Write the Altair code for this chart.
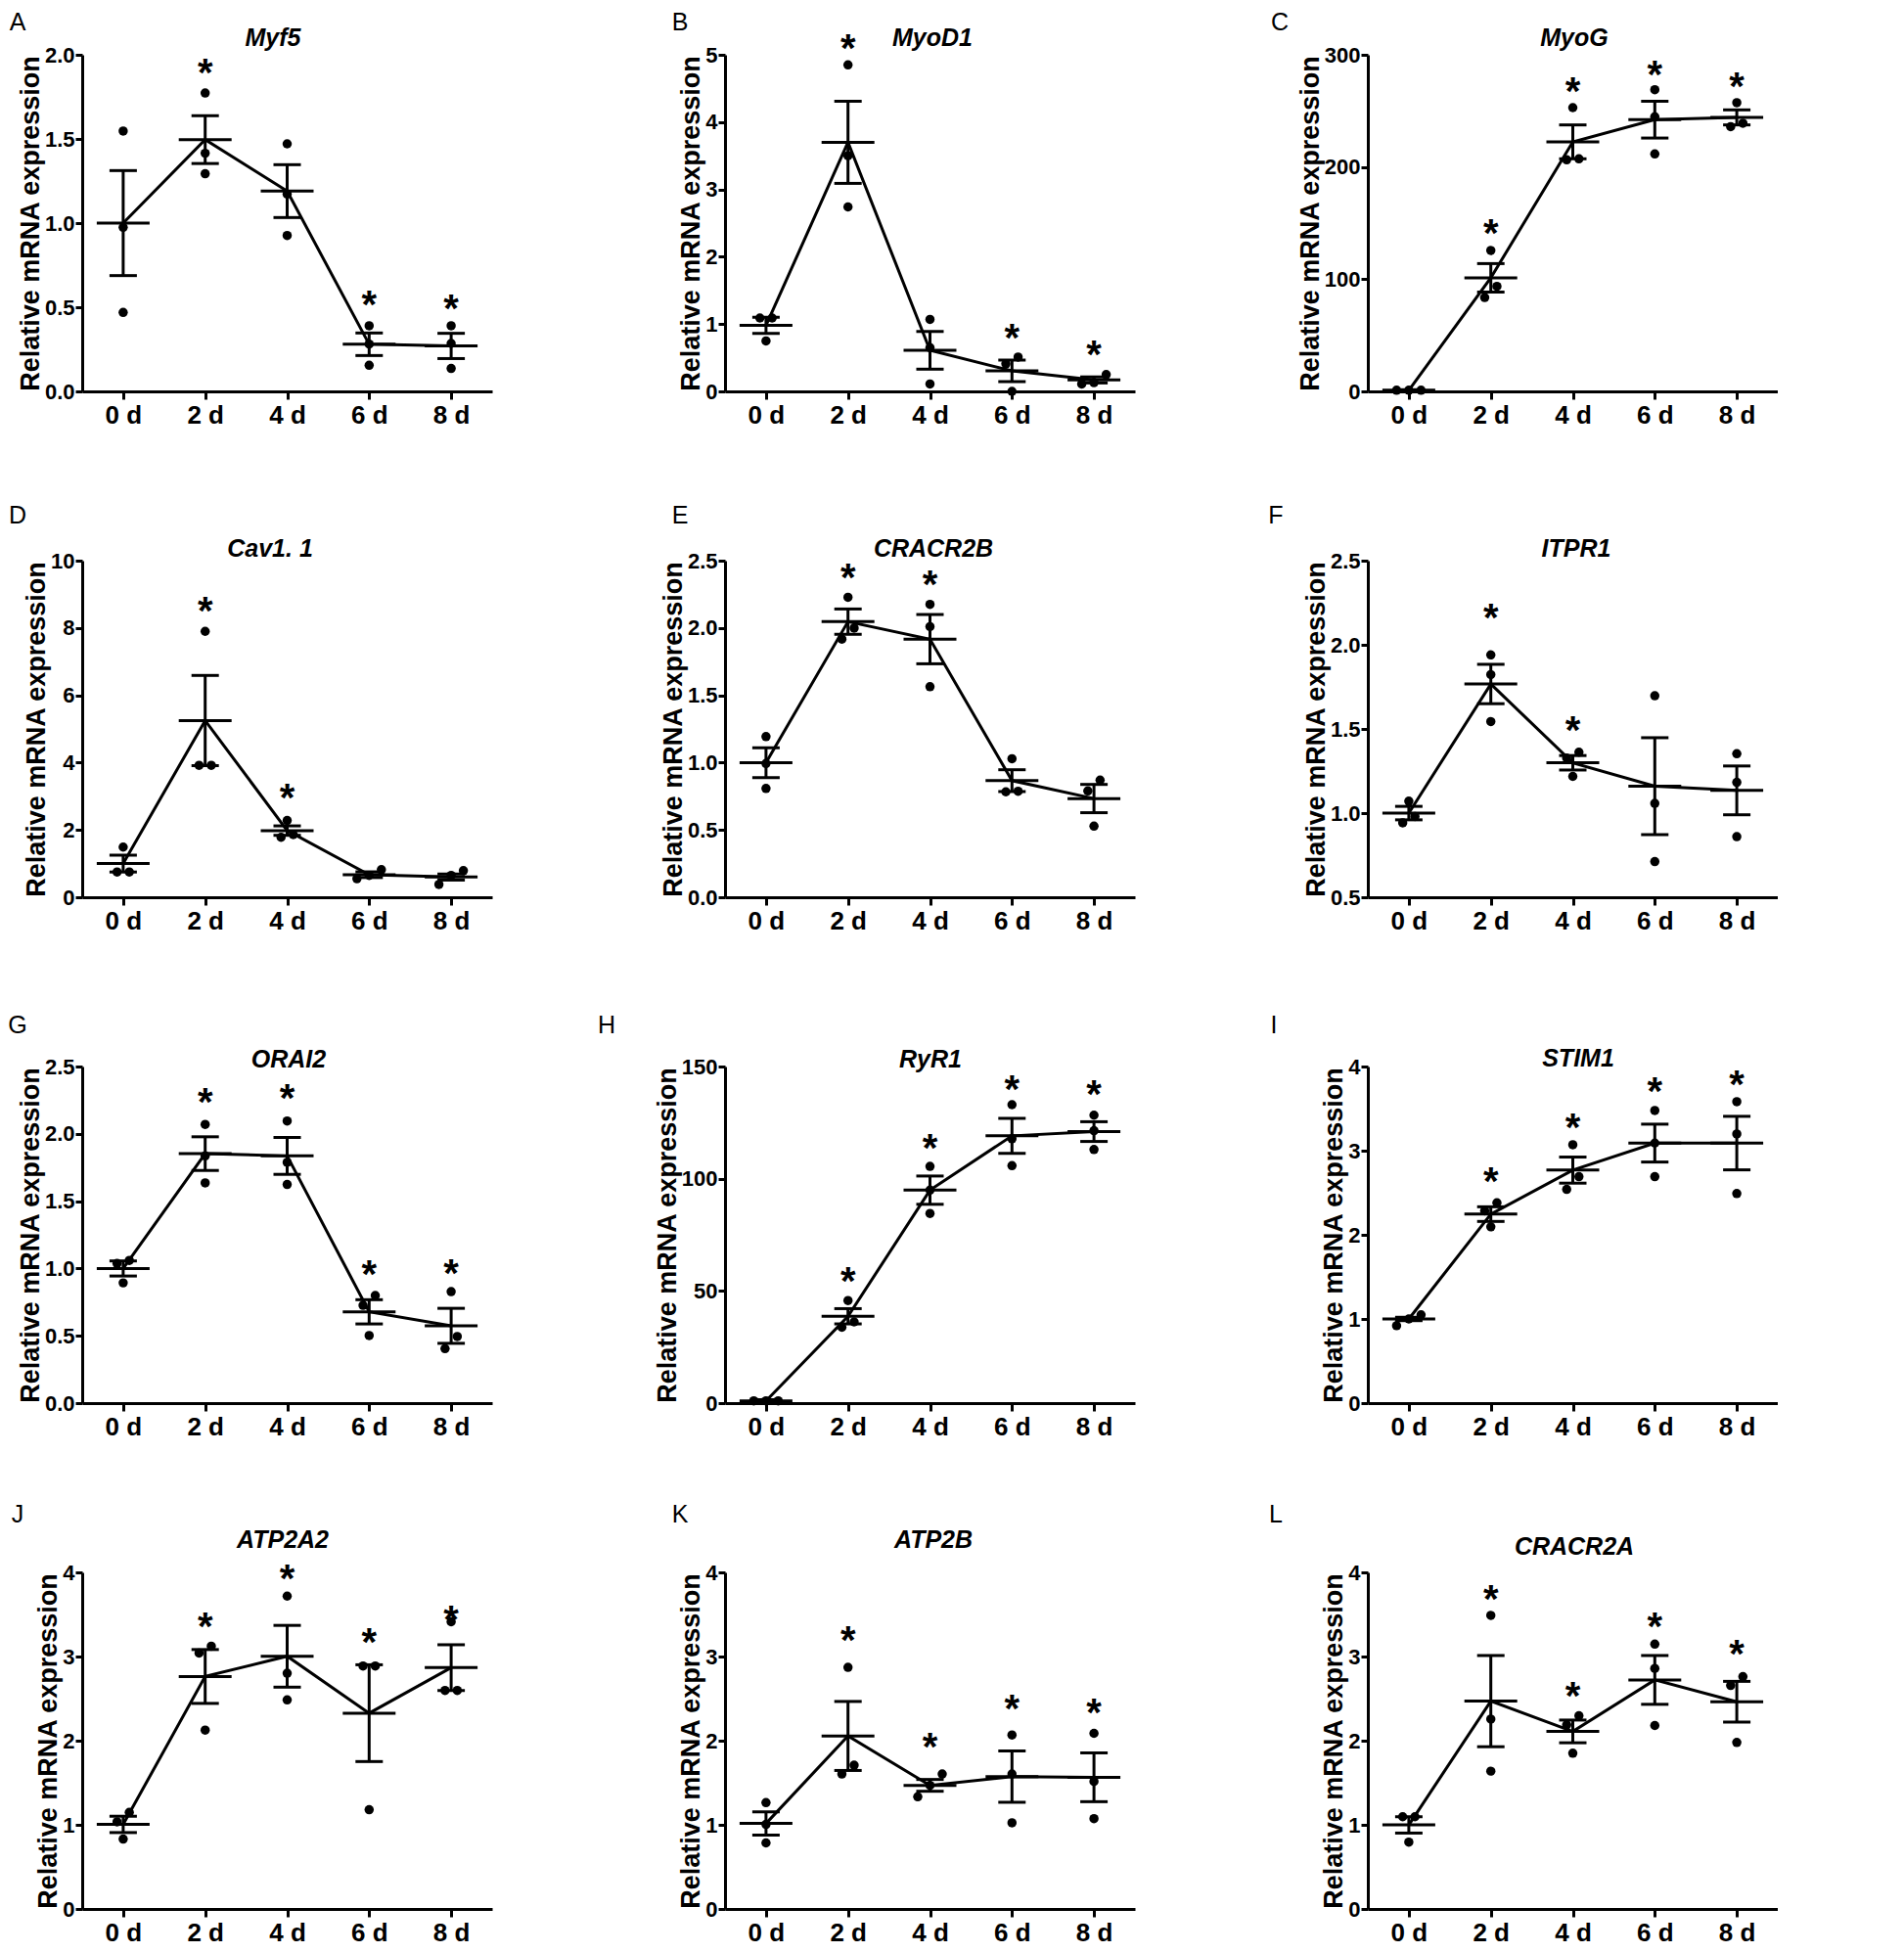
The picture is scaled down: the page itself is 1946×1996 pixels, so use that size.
import altair as alt
import pandas as pd

# ---------------- data ----------------
DAYS = [0, 2, 4, 6, 8]
DAY_LABELS = ["0 d", "2 d", "4 d", "6 d", "8 d"]
LETTERS = ["A", "B", "C", "D", "E", "F", "G", "H", "I", "J", "K", "L"]
GENES = ["Myf5", "MyoD1", "MyoG", "Cav1. 1", "CRACR2B", "ITPR1",
         "ORAI2", "RyR1", "STIM1", "ATP2A2", "ATP2B", "CRACR2A"]
Y_TITLE = "Relative mRNA expression"

Y_DOMAIN = {
    "Myf5": (0, 2.0), "MyoD1": (0, 5), "MyoG": (0, 300), "Cav1. 1": (0, 10),
    "CRACR2B": (0, 2.5), "ITPR1": (0.5, 2.5), "ORAI2": (0, 2.5), "RyR1": (0, 150),
    "STIM1": (0, 4), "ATP2A2": (0, 4), "ATP2B": (0, 4), "CRACR2A": (0, 4),
}
Y_STEP = {
    "Myf5": 0.5, "MyoD1": 1, "MyoG": 100, "Cav1. 1": 2, "CRACR2B": 0.5, "ITPR1": 0.5,
    "ORAI2": 0.5, "RyR1": 50, "STIM1": 1, "ATP2A2": 1, "ATP2B": 1, "CRACR2A": 1,
}
Y_FORMAT = {
    "Myf5": ".1f", "MyoD1": "d", "MyoG": "d", "Cav1. 1": "d", "CRACR2B": ".1f", "ITPR1": ".1f",
    "ORAI2": ".1f", "RyR1": "d", "STIM1": "d", "ATP2A2": "d", "ATP2B": "d", "CRACR2A": "d",
}

# individual replicates, one list of three per day (0, 2, 4, 6, 8 d)
DOTS = {
    "Myf5":    [[1.547, 0.975, 0.469], [1.773, 1.415, 1.293], [1.471, 1.172, 0.926], [0.390, 0.281, 0.155], [0.390, 0.285, 0.136]],
    "MyoD1":   [[1.09, 1.09, 0.75], [4.85, 3.50, 2.74], [1.07, 0.65, 0.11], [0.51, 0.41, 0.0], [0.25, 0.11, 0.13]],
    "MyoG":    [[1, 1, 1], [125.6, 93.6, 83.7], [252.9, 206.4, 207.3], [268.9, 244.8, 211.6], [257.3, 236.0, 239.0]],
    "Cav1. 1": [[1.49, 0.75, 0.75], [7.9, 3.92, 3.92], [2.28, 1.78, 1.86], [0.82, 0.55, 0.65], [0.79, 0.65, 0.38]],
    "CRACR2B": [[1.193, 0.993, 0.808], [2.228, 1.999, 1.917], [2.175, 2.01, 1.564], [1.029, 0.783, 0.787], [0.87, 0.79, 0.528]],
    "ITPR1":   [[1.071, 0.942, 0.98], [1.94, 1.823, 1.544], [1.362, 1.327, 1.218], [1.697, 1.058, 0.712], [1.353, 1.183, 0.86]],
    "ORAI2":   [[1.06, 1.037, 0.893], [2.07, 1.836, 1.636], [2.095, 1.788, 1.624], [0.799, 0.726, 0.502], [0.828, 0.495, 0.405]],
    "RyR1":    [[1, 1, 1], [45.7, 36.2, 33.8], [105.5, 94.9, 84.5], [133.0, 117.8, 105.8], [128.3, 121.4, 113.0]],
    "STIM1":   [[1.049, 1.0, 0.92], [2.381, 2.285, 2.095], [3.071, 2.691, 2.54], [3.477, 3.09, 2.691], [3.582, 3.198, 2.49]],
    "ATP2A2":  [[1.148, 1.036, 0.831], [3.123, 3.042, 2.126], [3.718, 2.802, 2.485], [2.887, 2.887, 1.179], [3.413, 2.597, 2.597]],
    "ATP2B":   [[1.264, 1.005, 0.785], [2.871, 1.708, 1.604], [1.604, 1.469, 1.333], [2.068, 1.604, 1.024], [2.087, 1.515, 1.074]],
    "CRACR2A": [[1.096, 1.096, 0.794], [3.489, 2.257, 1.638], [2.296, 2.188, 1.851], [3.148, 2.858, 2.18], [2.761, 2.656, 1.979]],
}
MEANS = {
    "Myf5": [1.0, 1.496, 1.19, 0.28, 0.27],
    "MyoD1": [0.98, 3.70, 0.61, 0.305, 0.17],
    "MyoG": [1.0, 101.2, 222.4, 242.2, 244.2],
    "Cav1. 1": [1.0, 5.25, 1.98, 0.67, 0.6],
    "CRACR2B": [1.0, 2.047, 1.917, 0.866, 0.733],
    "ITPR1": [1.0, 1.767, 1.299, 1.16, 1.135],
    "ORAI2": [1.0, 1.853, 1.836, 0.678, 0.574],
    "RyR1": [1.0, 38.7, 94.9, 119.1, 121.0],
    "STIM1": [1.0, 2.246, 2.769, 3.09, 3.09],
    "ATP2A2": [1.005, 2.763, 3.003, 2.327, 2.868],
    "ATP2B": [1.016, 2.056, 1.469, 1.573, 1.565],
    "CRACR2A": [0.999, 2.47, 2.11, 2.722, 2.463],
}
SEMS = {
    "Myf5": [0.312, 0.142, 0.157, 0.067, 0.075],
    "MyoD1": [0.12, 0.61, 0.28, 0.16, 0.045],
    "MyoG": [0.5, 12.7, 15.1, 16.4, 6.7],
    "Cav1. 1": [0.25, 1.34, 0.14, 0.085, 0.09],
    "CRACR2B": [0.111, 0.094, 0.183, 0.081, 0.105],
    "ITPR1": [0.04, 0.117, 0.043, 0.288, 0.145],
    "ORAI2": [0.056, 0.125, 0.137, 0.09, 0.13],
    "RyR1": [0.5, 3.4, 6.3, 7.8, 4.4],
    "STIM1": [0.02, 0.087, 0.155, 0.225, 0.318],
    "ATP2A2": [0.097, 0.32, 0.367, 0.575, 0.272],
    "ATP2B": [0.139, 0.41, 0.07, 0.305, 0.29],
    "CRACR2A": [0.097, 0.542, 0.135, 0.29, 0.242],
}
# height of the significance asterisks (None = not significant)
STARS = {
    "Myf5": [None, 1.915, None, 0.533, 0.51],
    "MyoD1": [None, 5.15, None, 0.85, 0.59],
    "MyoG": [None, 143.9, 270.3, 285.5, 274.7],
    "Cav1. 1": [None, 8.6, 3.04, None, None],
    "CRACR2B": [None, 2.4, 2.35, None, None],
    "ITPR1": [None, 2.18, 1.514, None, None],
    "ORAI2": [None, 2.26, 2.29, 0.98, 0.99],
    "RyR1": [None, 55.8, 115.2, 141.3, 139.1],
    "STIM1": [None, 2.68, 3.31, 3.74, 3.83],
    "ATP2A2": [None, 3.40, 3.96, 3.21, 3.48],
    "ATP2B": [None, 3.23, 1.963, 2.415, 2.377],
    "CRACR2A": [None, 3.717, 2.567, 3.40, 3.067],
}

# ---------------- layout / style ----------------
W, H = 419, 344
COL_SPACING = 238
ROW_SPACING = 173
X_DOMAIN = [-1, 9]
FONT = "Liberation Sans"
LW = 3
DOT_SIZE = 90
STAR_SIZE = 40
# gene name centre, relative to plot top-left (px)
GENE_POS = [(195, -17), (212, -17), (211, -17), (192, -12), (213, -12), (213, -12),
            (211, -7), (210, -7), (215, -8), (205, -33), (213, -33), (211, -26)]
# panel letter centre, relative to plot top-left (px)
LETTER_POS = [(-66, -33), (-46, -33), (-90, -33), (-66, -46), (-46, -46), (-94, -46),
              (-66, -42), (-121, -42), (-96, -42), (-66, -59), (-46, -59), (-94, -59)]


def dot_offsets(vals, px_per_unit, thresh=13.5, gap=12.5):
    """Spread overlapping replicate dots sideways (pixel offsets)."""
    order = sorted(range(len(vals)), key=lambda k: vals[k])
    clusters = [[order[0]]]
    for a, b in zip(order, order[1:]):
        if (vals[b] - vals[a]) * px_per_unit < thresh:
            clusters[-1].append(b)
        else:
            clusters.append([b])
    off = [0.0] * len(vals)
    for c in clusters:
        n = len(c)
        for k, idx in enumerate(c):
            off[idx] = (k - (n - 1) / 2) * gap
    return off


label_expr = "[" + ",".join(f"'{l}'" for l in DAY_LABELS) + "][indexof([" + \
    ",".join(str(d) for d in DAYS) + "], datum.value)]"


def panel(i):
    gene = GENES[i]
    ymin, ymax = Y_DOMAIN[gene]
    step = Y_STEP[gene]
    nvals = int(round((ymax - ymin) / step))
    yvals = [round(ymin + k * step, 6) for k in range(nvals + 1)]
    px_per_unit = H / (ymax - ymin)
    px_per_day = W / (X_DOMAIN[1] - X_DOMAIN[0])

    xs = alt.Scale(domain=X_DOMAIN, nice=False, zero=False)
    ys = alt.Scale(domain=[ymin, ymax], nice=False, zero=False)
    xaxis = alt.Axis(values=DAYS, labelExpr=label_expr, title=None)
    yaxis = alt.Axis(values=yvals, format=Y_FORMAT[gene], title=Y_TITLE)

    def X(f):
        return alt.X(f, type="quantitative", scale=xs, axis=xaxis)

    def Y(f):
        return alt.Y(f, type="quantitative", scale=ys, axis=yaxis, title=Y_TITLE)

    means = pd.DataFrame({
        "day": DAYS,
        "mean": MEANS[gene],
        "lo": [m - s for m, s in zip(MEANS[gene], SEMS[gene])],
        "hi": [m + s for m, s in zip(MEANS[gene], SEMS[gene])],
    })
    caps = pd.DataFrame({
        "day": DAYS + DAYS,
        "v": list(means["lo"]) + list(means["hi"]),
    })
    drows = []
    for d, vals in zip(DAYS, DOTS[gene]):
        offs = dot_offsets(vals, px_per_unit)
        for v, o in zip(vals, offs):
            drows.append({"xd": d + o / px_per_day, "v": v})
    dots = pd.DataFrame(drows)
    stars = pd.DataFrame([{"day": d, "v": s} for d, s in zip(DAYS, STARS[gene]) if s is not None])

    layers = [
        alt.Chart(means).mark_line(color="black", strokeWidth=LW).encode(x=X("day"), y=Y("mean")),
        alt.Chart(means).mark_rule(color="black", strokeWidth=LW).encode(
            x=X("day"), y=Y("lo"), y2=alt.Y2("hi")),
        alt.Chart(caps).mark_tick(color="black", orient="horizontal", size=28, thickness=LW, opacity=1).encode(
            x=X("day"), y=Y("v")),
        alt.Chart(means).mark_tick(color="black", orient="horizontal", size=54, thickness=LW, opacity=1).encode(
            x=X("day"), y=Y("mean")),
        alt.Chart(dots).mark_circle(color="black", size=DOT_SIZE, opacity=1).encode(
            x=X("xd"), y=Y("v")),
    ]
    if len(stars):
        layers.append(
            alt.Chart(stars).mark_text(text="*", font=FONT, fontSize=STAR_SIZE, fontWeight="bold",
                                       color="black", baseline="alphabetic", dy=17).encode(
                x=X("day"), y=Y("v")))
    gx, gy = GENE_POS[i]
    layers.append(
        alt.Chart(pd.DataFrame({"t": [gene]})).mark_text(
            font=FONT, fontSize=25, fontWeight="bold", fontStyle="italic", color="black",
            baseline="middle", align="center").encode(
            text="t:N", x=alt.value(gx), y=alt.value(gy)))
    lx, ly = LETTER_POS[i]
    layers.append(
        alt.Chart(pd.DataFrame({"t": [LETTERS[i]]})).mark_text(
            font=FONT, fontSize=25, color="black", baseline="middle", align="center").encode(
            text="t:N", x=alt.value(lx), y=alt.value(ly)))
    return alt.layer(*layers).properties(width=W, height=H)


panels = [panel(i) for i in range(len(GENES))]

chart = alt.concat(
    *panels, columns=3, bounds="flush",
    spacing={"row": ROW_SPACING, "column": COL_SPACING},
).properties(
    padding={"top": 3, "left": 0, "right": 0, "bottom": 0}, background="white"
).configure_view(
    stroke=None
).configure_axis(
    grid=False,
    domainColor="black", domainWidth=LW,
    tickColor="black", tickWidth=LW,
    labelFont=FONT, labelFontWeight="bold", labelColor="black",
    titleFont=FONT, titleFontWeight="bold", titleColor="black",
).configure_axisX(
    labelFontSize=26, labelPadding=3, tickSize=8,
).configure_axisY(
    labelFontSize=22, labelPadding=1, tickSize=7,
    titleFontSize=27, titlePadding=0,
)

chart.save("out.html", embed_options={"renderer": "svg", "actions": False})
